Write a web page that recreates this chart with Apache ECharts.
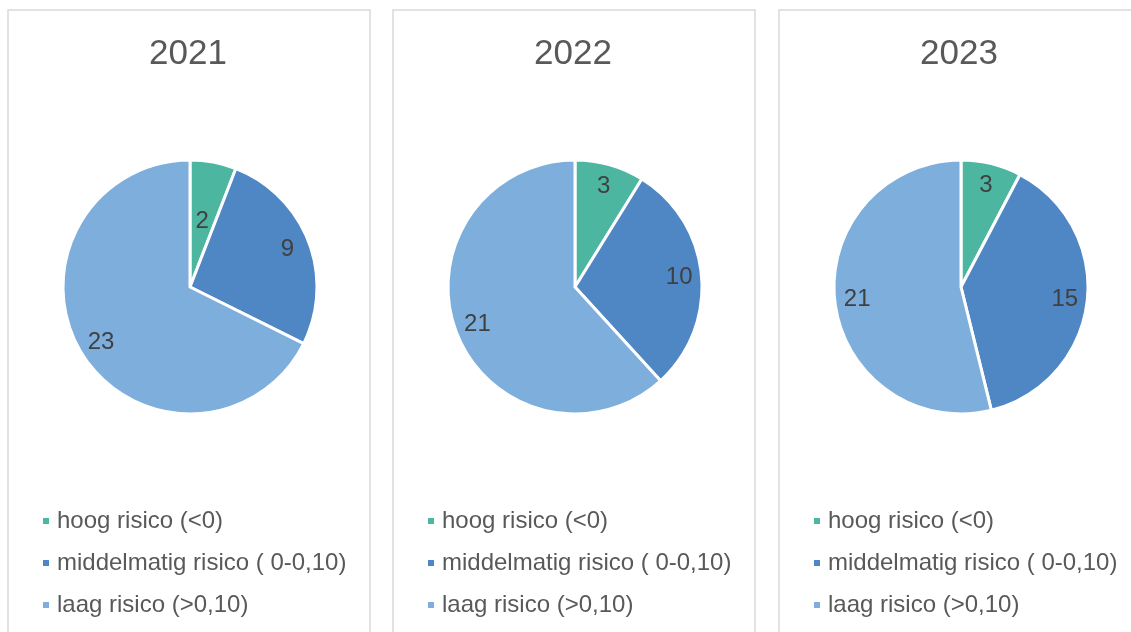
<!DOCTYPE html>
<html>
<head>
<meta charset="utf-8">
<script src="https://cdn.jsdelivr.net/npm/echarts@6/dist/echarts.min.js"></script>
<style>
  html, body { margin: 0; padding: 0; background: #fff; }
  #chart { width: 1131px; height: 632px; }
</style>
</head>
<body>
<div id="chart"></div>
<script>
// jaren en risicocategorieen
var years = ['2021', '2022', '2023'];
var categories = ['hoog risico (<0)', 'middelmatig risico ( 0-0,10)', 'laag risico (>0,10)'];
var colors = ['#4db6a0', '#4f86c4', '#7daedc'];
// aantallen per jaar
var values2021 = [2, 9, 23];
var values2022 = [3, 10, 21];
var values2023 = [3, 15, 21];
var allValues = [values2021, values2022, values2023];

var myChart = echarts.init(document.getElementById('chart'));

// paneel posities
var panelLeft = [8, 393, 779];
var panelWidth = 362;
var pieX = [190, 575, 961];
var pieY = 287;
var pieR = 127;

var titles = [];
var legends = [];
var series = [];
var graphics = [];

for (var i = 0; i < years.length; i++) {
    // kader rond elke grafiek
    graphics.push({
        type: 'rect',
        shape: { x: panelLeft[i], y: 10, width: panelWidth, height: 640 },
        style: { fill: 'none', stroke: '#d9d9d9', lineWidth: 1.5 },
        silent: true,
        z: -1
    });
    titles.push({
        text: years[i],
        left: panelLeft[i] + panelWidth / 2 - 6,
        top: 32,
        textAlign: 'center',
        textStyle: { fontFamily: 'Liberation Sans', fontSize: 35, fontWeight: 'normal', color: '#595959' }
    });
    legends.push({
        data: categories,
        orient: 'vertical',
        left: panelLeft[i] + 28,
        top: 504,
        icon: 'rect',
        itemWidth: 8,
        itemHeight: 8,
        itemGap: 18,
        selectedMode: false,
        textStyle: { fontFamily: 'Liberation Sans', fontSize: 24, lineHeight: 24, color: '#595959', padding: [0, 0, 0, 2] }
    });

    var data = [];
    var labelData = [];
    for (var j = 0; j < categories.length; j++) {
        // kleine sector 2021: label dichter bij het midden
        var inner = (i == 0 && j == 0);
        data.push({
            name: categories[j],
            value: allValues[i][j],
            itemStyle: { color: colors[j] },
            label: { show: inner }
        });
        labelData.push({
            name: categories[j],
            value: allValues[i][j],
            label: { show: !inner }
        });
    }
    series.push({
        type: 'pie',
        center: [pieX[i], pieY],
        radius: [0, pieR],
        startAngle: 90,
        clockwise: true,
        silent: true,
        animation: false,
        itemStyle: { borderColor: '#fff', borderWidth: 3 },
        label: { position: 'inside', formatter: '{c}', fontFamily: 'Liberation Sans', fontSize: 24, color: '#404040' },
        labelLine: { show: false },
        emphasis: { disabled: true },
        data: data
    });
    // onzichtbare ring alleen voor de labels (op 0.8 van de straal)
    series.push({
        type: 'pie',
        center: [pieX[i], pieY],
        radius: [0, pieR * 1.6],
        startAngle: 90,
        clockwise: true,
        silent: true,
        animation: false,
        itemStyle: { color: 'rgba(0,0,0,0)', borderWidth: 0 },
        label: { position: 'inside', formatter: '{c}', fontFamily: 'Liberation Sans', fontSize: 24, color: '#404040' },
        labelLine: { show: false },
        emphasis: { disabled: true },
        z: 3,
        data: labelData
    });
}

var option = {
    backgroundColor: '#fff',
    animation: false,
    title: titles,
    legend: legends,
    graphic: graphics,
    series: series
};
myChart.setOption(option);
</script>
</body>
</html>
